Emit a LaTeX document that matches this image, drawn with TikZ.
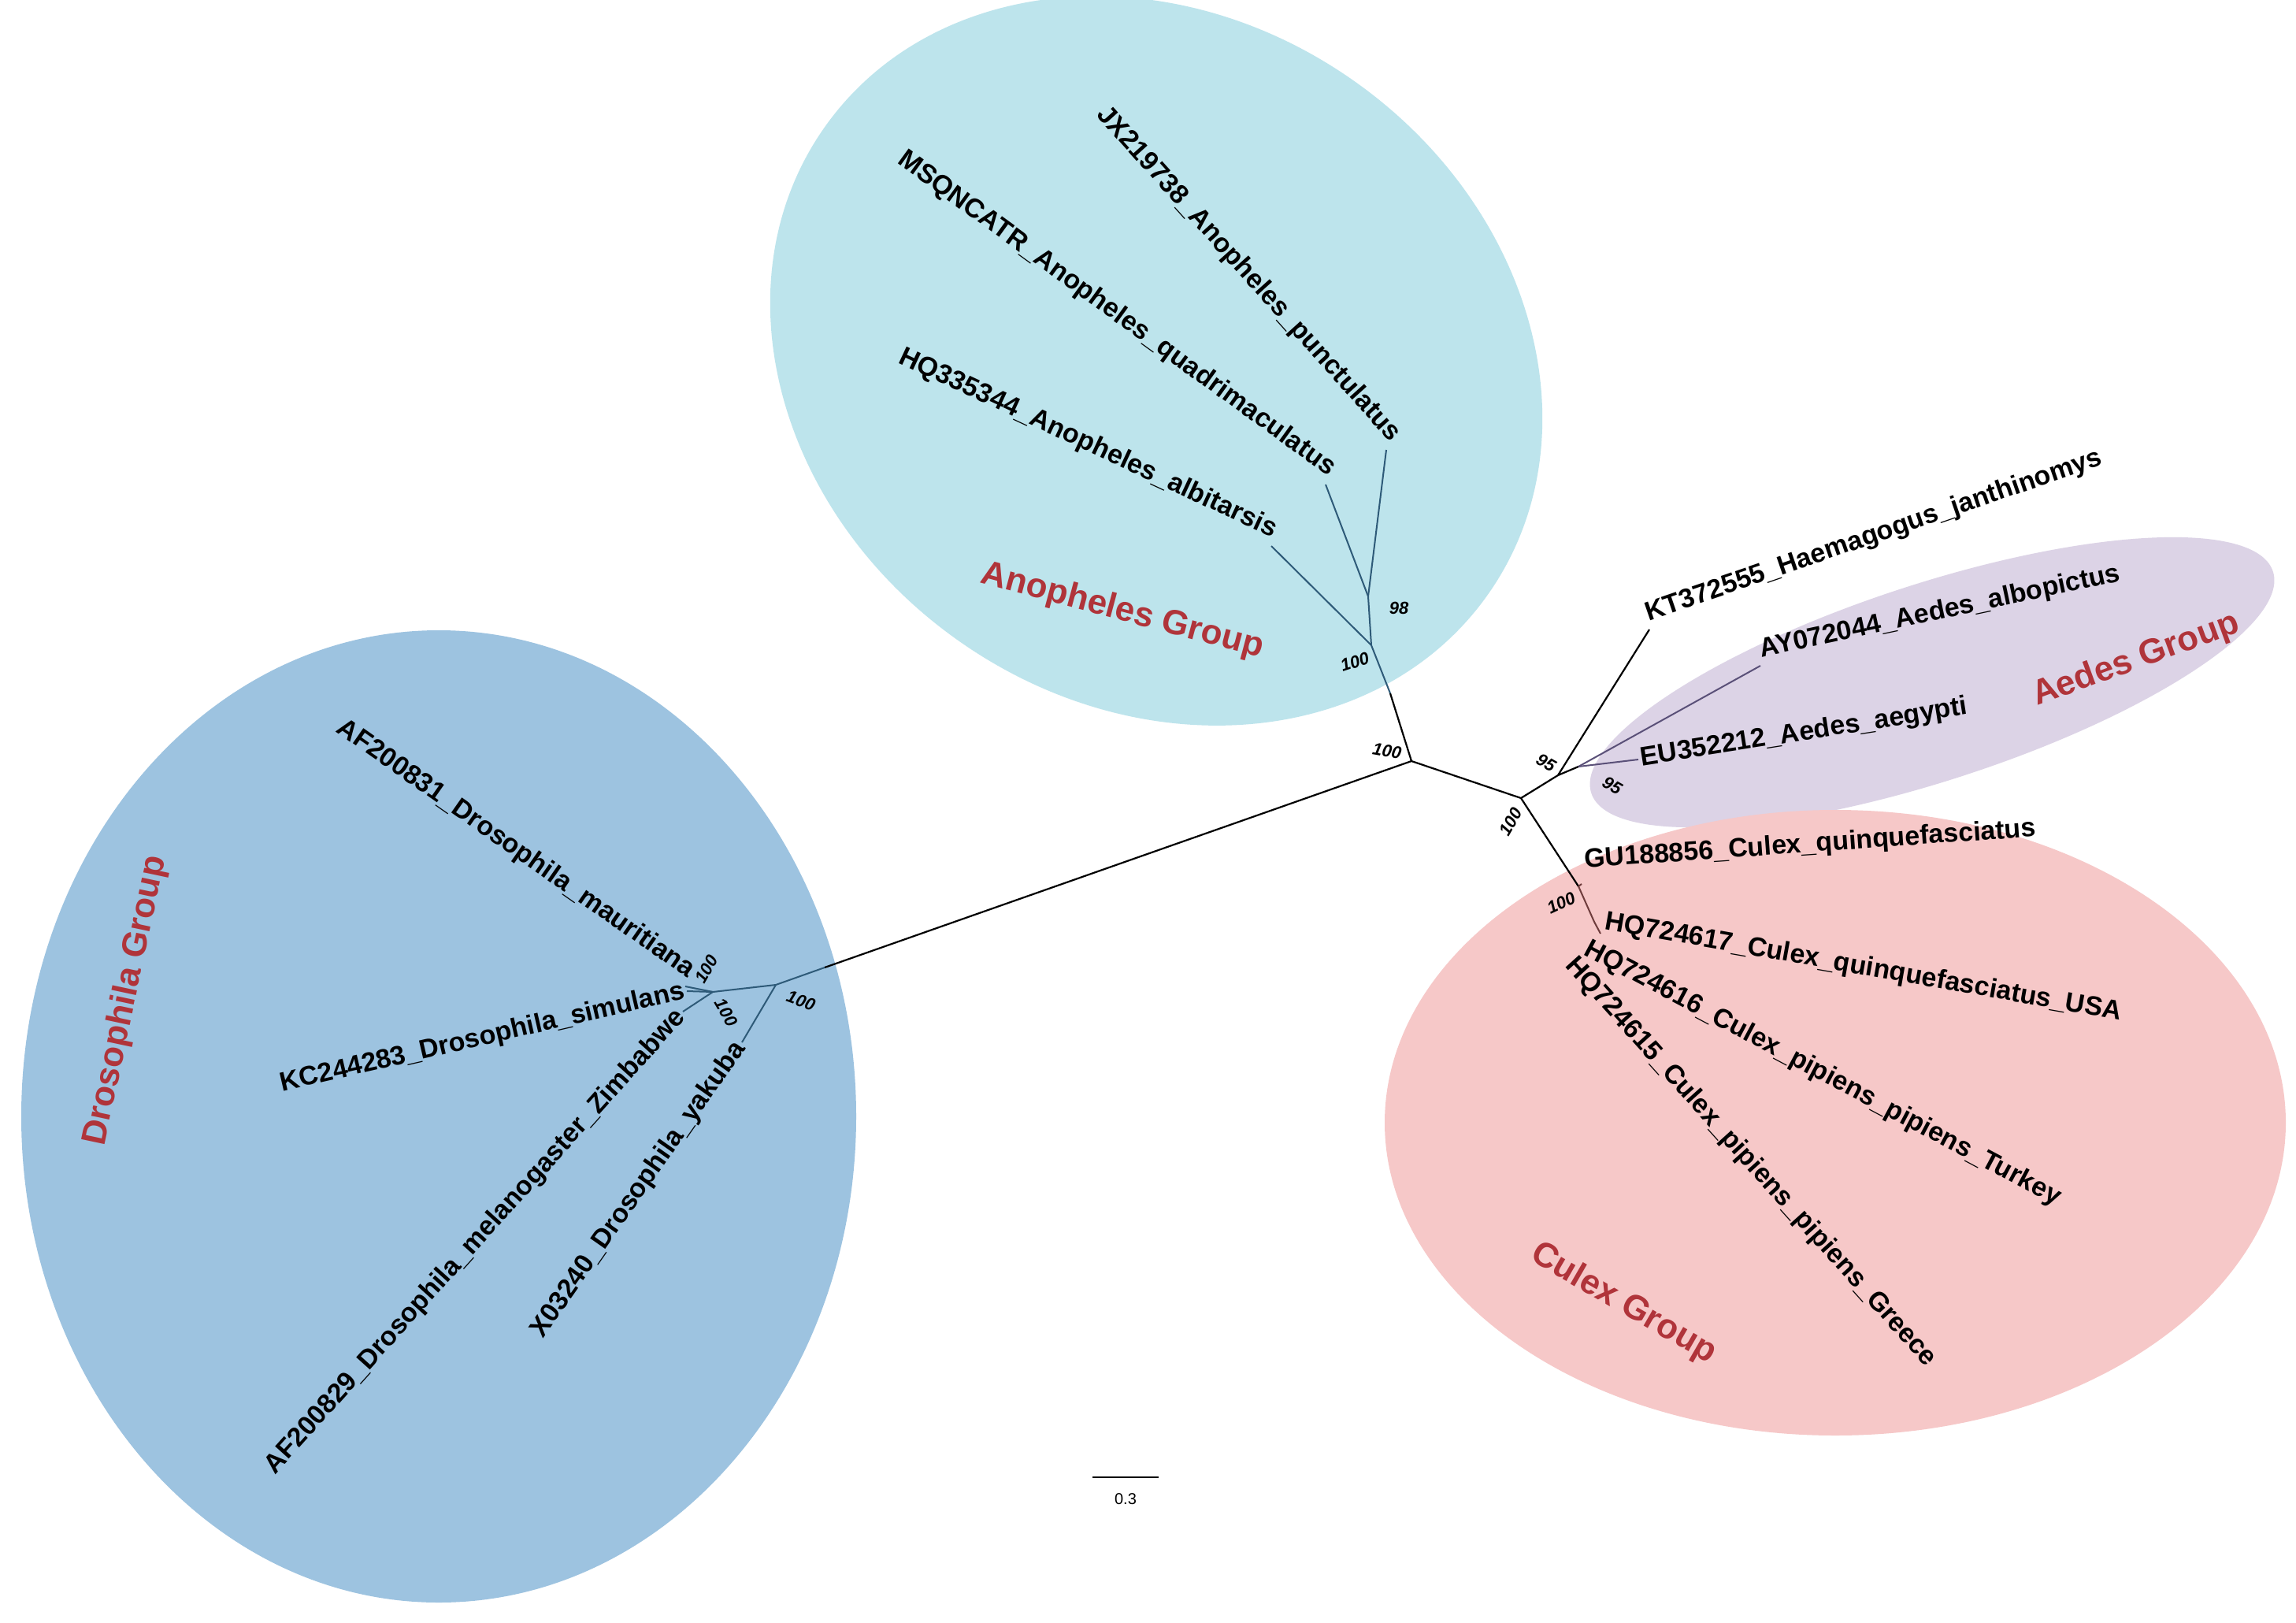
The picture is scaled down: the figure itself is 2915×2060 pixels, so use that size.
\documentclass[tikz,border=0pt]{standalone}
\usepackage{fontspec}
\setmainfont{Liberation Sans}
\begin{document}
\begin{tikzpicture}[x=1pt,y=-1pt,
  lab/.style={font=\fontsize{34}{38}\selectfont\bfseries,inner sep=3pt},
  grp/.style={font=\fontsize{44}{50}\selectfont\bfseries,text=grpred},
  bs/.style={font=\fontsize{22}{26}\selectfont\bfseries\itshape,inner sep=1pt},
  br/.style={line width=2.2pt,draw=black},
  cb/.style={line width=2pt,draw=clade}]
\definecolor{grpred}{HTML}{B0343A}
\definecolor{clade}{HTML}{2E5A78}
\useasboundingbox (0,0) rectangle (2915,2060);
\fill[white] (0,0) rectangle (2915,2060);
% ellipses
\fill[fill={rgb,255:red,189;green,228;blue,236}] (1468,458) ellipse[x radius=515,y radius=435,rotate=-35];
\fill[fill={rgb,255:red,157;green,195;blue,224}] (557,1417) ellipse[x radius=530,y radius=617];
\fill[fill={rgb,255:red,220;green,211;blue,230}] (2453,866) ellipse[x radius=455,y radius=125,rotate=18];
\fill[fill={rgb,255:red,246;green,200;blue,200}] (2330,1425) ellipse[x radius=572,y radius=397];
% nodes
\coordinate (root) at (1792,966);
\coordinate (an) at (1741,819);
\coordinate (a98) at (1737,757);
\coordinate (tP) at (1760,571);
\coordinate (tQ) at (1683,615);
\coordinate (tA) at (1614,693);
\coordinate (rn) at (1931,1013);
\coordinate (n95) at (1978,984);
\coordinate (tKT) at (2094,799);
\coordinate (ae) at (2004,973);
\coordinate (tAY) at (2235,845);
\coordinate (tEU) at (2080,964);
\coordinate (cx) at (2004,1125);
\coordinate (tGU) at (2008,1122);
\coordinate (c2) at (2024,1170);
\coordinate (tHQ7) at (2032,1185);
\coordinate (dj) at (1047,1228);
\coordinate (dn) at (985,1250);
\coordinate (di) at (905,1259);
\coordinate (tMa) at (870,1252);
\coordinate (tSi) at (872,1258);
\coordinate (tMe) at (867,1284);
\coordinate (tYa) at (942,1323);
% branches
\draw[br] (root) -- (dj);
\draw[cb] (dj) -- (dn);
\draw[cb] (dn) -- (di) -- (tMa);
\draw[cb] (di) -- (tSi);
\draw[cb] (di) -- (tMe);
\draw[cb] (dn) -- (tYa);
\draw[br] (root) -- (1765,880);
\draw[cb] (1765,880) -- (an);
\draw[cb] (an) -- (a98) -- (tP);
\draw[cb] (a98) -- (tQ);
\draw[cb] (an) -- (tA);
\draw[br] (root) -- (rn) -- (n95) -- (tKT);
\draw[br] (n95) -- (ae);
\draw[cb,draw={rgb,255:red,90;green,80;blue,120}] (ae) -- (tAY);
\draw[cb,draw={rgb,255:red,90;green,80;blue,120}] (ae) -- (tEU);
\draw[br] (rn) -- (cx);
\draw[cb,draw={rgb,255:red,110;green,60;blue,60}] (cx) -- (c2) -- (tHQ7);
\draw[cb,draw={rgb,255:red,110;green,60;blue,60}] (cx) -- (tGU);
% tip labels
\node[lab,anchor=south east,rotate=-48] at (tP) {JX219738\_Anopheles\_punctulatus};
\node[lab,anchor=south east,rotate=-36] at (tQ) {MSQNCATR\_Anopheles\_quadrimaculatus};
\node[lab,anchor=south east,rotate=-25] at (tA) {HQ335344\_Anopheles\_albitarsis};
\node[lab,anchor=south west,rotate=19] at (tKT) {KT372555\_Haemagogus\_janthinomys};
\node[lab,anchor=south west,rotate=12] at (tAY) {AY072044\_Aedes\_albopictus};
\node[lab,anchor=west,rotate=9] at (tEU) {EU352212\_Aedes\_aegypti};
\node[lab,anchor=south west,rotate=4] at (2010,1112) {GU188856\_Culex\_quinquefasciatus};
\node[lab,anchor=west,rotate=-10] at (2035,1170) {HQ724617\_Culex\_quinquefasciatus\_USA};
\node[lab,anchor=north west,rotate=-28] at (2020,1185) {HQ724616\_Culex\_pipiens\_pipiens\_Turkey};
\node[lab,anchor=north west,rotate=-48] at (2005,1205) {HQ724615\_Culex\_pipiens\_pipiens\_Greece};
\node[lab,anchor=south east,rotate=-35] at (tMa) {AF200831\_Drosophila\_mauritiana};
\node[lab,anchor=east,rotate=13] at (tSi) {KC244283\_Drosophila\_simulans};
\node[lab,anchor=east,rotate=48] at (tMe) {AF200829\_Drosophila\_melanogaster\_Zimbabwe};
\node[lab,anchor=east,rotate=55] at (tYa) {X03240\_Drosophila\_yakuba};
% group labels
\node[grp,rotate=-15] at (1425,776) {Anopheles Group};
\node[grp,rotate=20] at (2712,838) {Aedes Group};
\node[grp,rotate=-30] at (2061,1655) {Culex Group};
\node[grp,rotate=78] at (160,1270) {Drosophila Group};
% bootstraps
\node[bs] at (1776,772) {98};
\node[bs,rotate=18] at (1720,840) {100};
\node[bs,rotate=-10] at (1761,953) {100};
\node[bs,rotate=-30] at (1963,968) {95};
\node[bs,rotate=-30] at (2047,997) {95};
\node[bs,rotate=60] at (1918,1043) {100};
\node[bs,rotate=25] at (1982,1146) {100};
\node[bs,rotate=60] at (897,1230) {100};
\node[bs,rotate=-60] at (922,1285) {100};
\node[bs,rotate=-20] at (1017,1270) {100};
% scale bar
\coordinate (s1) at (1387,1875);
\coordinate (s2) at (1471,1875);
\draw[line width=1.5pt] (s1) -- (s2);
\node[font=\fontsize{20}{24}\selectfont] at (1429,1903) {0.3};
\end{tikzpicture}
\end{document}
